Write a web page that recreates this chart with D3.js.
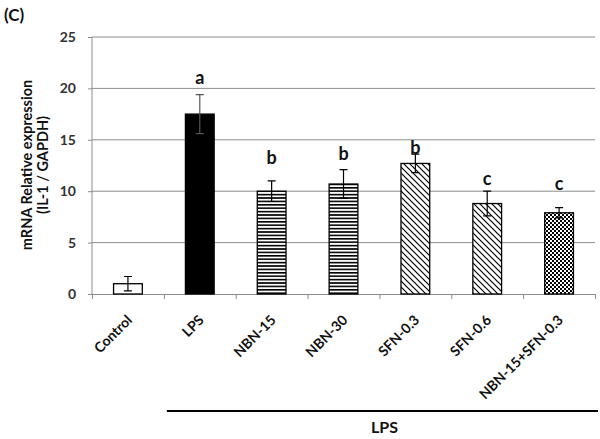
<!DOCTYPE html>
<html lang="en">
<head>
<meta charset="UTF-8">
<title>IL-1 mRNA expression</title>
<script src="https://cdn.jsdelivr.net/npm/d3@7"></script>
<style>
  body { margin: 0; background: #fff; }
  svg { display: block; font-family: Lato, "Open Sans", sans-serif; font-weight: bold; }
</style>
</head>
<body>
<script>
// data
const groups = ["Control", "LPS", "NBN-15", "NBN-30", "SFN-0.3", "SFN-0.6", "NBN-15+SFN-0.3"]
const means = [1.0, 17.5, 10.0, 10.7, 12.7, 8.8, 7.9]
const errs = [0.7, 1.9, 1.0, 1.4, 0.9, 1.2, 0.5]
const fills = ["white", "black", "hstripe", "hstripe", "diag", "diag", "check"]
const sigLetters = ["", "a", "b", "b", "b", "c", "c"]
const sigHeights = [0, 20.4, 12.6, 13.0, 13.6, 10.6, 10.1]
const yTicks = [0, 5, 10, 15, 20, 25]

const width = 600, height = 439
const mLeft = 92, mRight = 595, mTop = 37, mBottom = 294

const svg = d3.select("body").append("svg").attr("width", width).attr("height", height)

// patterns
const defs = svg.append("defs")
const hs = defs.append("pattern").attr("id", "hstripe").attr("patternUnits", "userSpaceOnUse")
  .attr("width", 6).attr("height", 3.4)
hs.append("rect").attr("width", 6).attr("height", 3.4).attr("fill", "white")
hs.append("rect").attr("y", 0).attr("width", 6).attr("height", 1.6).attr("fill", "black")

const dg = defs.append("pattern").attr("id", "diag").attr("patternUnits", "userSpaceOnUse")
  .attr("width", 6).attr("height", 6)
dg.append("rect").attr("width", 6).attr("height", 6).attr("fill", "white")
dg.append("path").attr("d", "M0,0L6,6M-1,5L1,7M5,-1L7,1").attr("stroke", "black").attr("stroke-width", 1.2)

const ck = defs.append("pattern").attr("id", "check").attr("patternUnits", "userSpaceOnUse")
  .attr("width", 4).attr("height", 4)
ck.append("rect").attr("width", 4).attr("height", 4).attr("fill", "white")
ck.append("rect").attr("width", 2).attr("height", 2).attr("fill", "black")
ck.append("rect").attr("x", 2).attr("y", 2).attr("width", 2).attr("height", 2).attr("fill", "black")

// scales
const x = d3.scaleBand().domain(groups).range([mLeft, mRight])
const xEdge = d3.scaleLinear().domain([0, groups.length]).range([mLeft, mRight])
const y = d3.scaleLinear().domain([0, 25]).range([mBottom, mTop])
const barW = x.step() * 0.4

// gridlines
svg.append("g").selectAll("line").data(yTicks.slice(1)).enter().append("line")
  .attr("x1", mLeft).attr("x2", mRight)
  .attr("y1", d => y(d)).attr("y2", d => y(d))
  .attr("stroke", "#8c8c8c").attr("stroke-width", 1)

// y axis
const yAxis = svg.append("g").attr("transform", `translate(${mLeft},0)`)
  .call(d3.axisLeft(y).tickValues(yTicks).tickSize(4).tickPadding(12))
yAxis.selectAll("line, path").attr("stroke", "#8c8c8c")
yAxis.select(".domain").attr("d", `M0,${mTop}V${mBottom}`)
yAxis.selectAll("text").attr("font-size", 14).attr("font-family", "Lato, sans-serif")
  .attr("font-weight", "bold").attr("fill", "#333")

// x axis (tick marks between categories)
const xAxis = svg.append("g").attr("transform", `translate(0,${mBottom})`)
  .call(d3.axisBottom(xEdge).tickValues(d3.range(groups.length + 1)).tickFormat("").tickSize(5))
xAxis.selectAll("line, path").attr("stroke", "#8c8c8c")

// bars
const bars = svg.append("g").selectAll("g").data(groups).enter().append("g")
bars.append("rect")
  .attr("x", d => x(d) + (x.bandwidth() - barW) / 2)
  .attr("y", (d, i) => y(means[i]))
  .attr("width", barW)
  .attr("height", (d, i) => y(0) - y(means[i]))
  .attr("fill", (d, i) => fills[i] === "white" || fills[i] === "black" ? fills[i] : `url(#${fills[i]})`)
  .attr("stroke", "black").attr("stroke-width", 1.3)

// error bars
const cx = d => x(d) + x.bandwidth() / 2
bars.append("line")
  .attr("x1", cx).attr("x2", cx)
  .attr("y1", (d, i) => y(means[i] + errs[i])).attr("y2", (d, i) => y(means[i] - errs[i]))
  .attr("stroke", (d, i) => fills[i] === "black" ? "#555" : "black").attr("stroke-width", 1.2)
bars.append("path")
  .attr("d", (d, i) => {
    const c = cx(d), t = y(means[i] + errs[i]), b = y(means[i] - errs[i])
    return `M${c - 4},${t}H${c + 4}M${c - 4},${b}H${c + 4}`
  })
  .attr("stroke", (d, i) => fills[i] === "black" ? "#555" : "black").attr("stroke-width", 1.2)

// significance letters
bars.append("text")
  .attr("x", cx).attr("y", (d, i) => y(sigHeights[i]))
  .attr("text-anchor", "middle").attr("font-size", 18).attr("fill", "#111")
  .text((d, i) => sigLetters[i])

// category labels
svg.append("g").selectAll("text").data(groups).enter().append("text")
  .attr("transform", d => `translate(${cx(d) + 5},${mBottom + 27}) rotate(-45)`)
  .attr("text-anchor", "end").attr("font-size", 14).attr("fill", "#111")
  .text(d => d)

// LPS bracket
svg.append("line")
  .attr("x1", x("LPS") + 3).attr("x2", mRight + 3)
  .attr("y1", 411).attr("y2", 411)
  .attr("stroke", "black").attr("stroke-width", 2)
svg.append("text")
  .attr("x", (x("LPS") + mRight) / 2 + 5).attr("y", 433)
  .attr("text-anchor", "middle").attr("font-size", 16).attr("fill", "#111")
  .text("LPS")

// y title
const yt = svg.append("text").attr("transform", `translate(32,165) rotate(-90)`)
  .attr("text-anchor", "middle").attr("font-size", 14.5).attr("fill", "#111")
yt.append("tspan").attr("x", 0).attr("y", 0).text("mRNA Relative expression")
yt.append("tspan").attr("x", 0).attr("y", 16).text("(IL-1 / GAPDH)")

// panel letter
svg.append("text").attr("x", 4).attr("y", 21).attr("font-size", 17).attr("fill", "#111").text("(C)")
</script>
</body>
</html>
